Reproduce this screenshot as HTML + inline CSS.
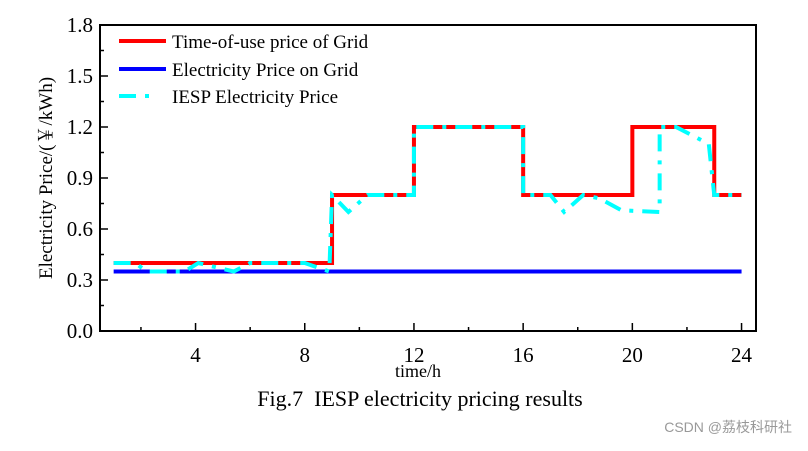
<!DOCTYPE html>
<html><head><meta charset="utf-8"><style>
body{margin:0;background:#fff;width:808px;height:446px;overflow:hidden}
svg text{font-family:"Liberation Serif",serif;fill:#000}
</style></head><body>
<svg id="chart" width="808" height="446">
<rect x="100" y="25" width="656" height="306" fill="none" stroke="#000" stroke-width="2"/>
<g id="ticks"></g>
<g id="series"></g>
<text x="418" y="377" font-size="18" text-anchor="middle">time/h</text>
<text transform="translate(52,178) rotate(-90)" font-size="19" text-anchor="middle" style="font-family:'Liberation Serif','Noto Serif CJK SC',serif">Electricity Price/(￥/kWh)</text>
<g>
<line x1="119" y1="41" x2="166" y2="41" stroke="#f00" stroke-width="4"/>
<text x="172" y="48" font-size="19">Time-of-use price of Grid</text>
<line x1="119" y1="69" x2="166" y2="69" stroke="#00f" stroke-width="4"/>
<text x="172" y="76" font-size="19">Electricity Price on Grid</text>
<line x1="119" y1="96" x2="166" y2="96" stroke="#0ff" stroke-width="4" stroke-dasharray="17,9,4,40"/>
<text x="172" y="103" font-size="19">IESP Electricity Price</text>
</g>
<text x="420" y="406" font-size="22" text-anchor="middle" style="white-space:pre">Fig.7  IESP electricity pricing results</text>
<text x="792" y="432" font-size="14" text-anchor="end" style="fill:#999;font-family:'Liberation Sans','Noto Sans CJK SC',sans-serif">CSDN @荔枝科研社</text>
</svg>
<script>
const xTicks=[4,8,12,16,20,24];
const yTicks=[0,0.3,0.6,0.9,1.2,1.5,1.8];
const touT=[1,9,9,12,12,16,16,20,20,23,23,24];
const touV=[0.4,0.4,0.8,0.8,1.2,1.2,0.8,0.8,1.2,1.2,0.8,0.8];
const gridT=[1,24];
const gridV=[0.35,0.35];
const iespT=[1,1.8,2.2,3.6,4.1,5.4,6,7.4,8,8.9,9,9.6,10.3,12,12,16,16,17,17.5,18.2,18.8,19.6,21,21,21.6,22.8,23,24];
const iespV=[0.4,0.4,0.35,0.35,0.4,0.35,0.4,0.4,0.4,0.35,0.8,0.7,0.8,0.8,1.2,1.2,0.8,0.8,0.7,0.8,0.78,0.71,0.7,1.2,1.2,1.1,0.8,0.8];
const X=t=>100+(t-0.5)*27.3;
const Y=v=>331-v*170;
const NS='http://www.w3.org/2000/svg';
const tg=document.getElementById('ticks'),sg=document.getElementById('series');
function mk(tag,attrs,parent){const e=document.createElementNS(NS,tag);for(const k in attrs)e.setAttribute(k,attrs[k]);parent.appendChild(e);return e;}
xTicks.forEach(t=>{
  const l=mk('line',{x1:X(t),x2:X(t),y1:331,y2:323,stroke:'#000','stroke-width':1.5},tg);
  
  
  const m=mk('line',{x1:X(t-2),x2:X(t-2),y1:331,y2:327,stroke:'#000','stroke-width':1.5},tg);
  
  
  const tx=mk('text',{x:X(t),y:362,'font-size':21,'text-anchor':'middle'},tg);tx.textContent=t;
  
  
});
yTicks.forEach(v=>{
  const l=mk('line',{x1:100,x2:108,y1:Y(v),y2:Y(v),stroke:'#000','stroke-width':1.5},tg);
  
  
  if(v>0){const m=mk('line',{x1:100,x2:104,y1:Y(v-0.15),y2:Y(v-0.15),stroke:'#000','stroke-width':1.5},tg);
  
  }
  const tx=mk('text',{x:93,y:Y(v)+7,'font-size':21,'text-anchor':'end'},tg);tx.textContent=v.toFixed(1);
  
  
});
function pts(T,V){return T.map((t,i)=>X(t)+','+Y(V[i])).join(' ');}
const g1=mk('polyline',{points:pts(gridT,gridV),fill:'none',stroke:'#00f','stroke-width':4},sg);


const g2=mk('polyline',{points:pts(touT,touV),fill:'none',stroke:'#f00','stroke-width':4},sg);


const g3=mk('polyline',{points:pts(iespT,iespV),fill:'none',stroke:'#0ff','stroke-width':4,'stroke-dasharray':'17,9,4,9'},sg);


</script>
</body></html>
